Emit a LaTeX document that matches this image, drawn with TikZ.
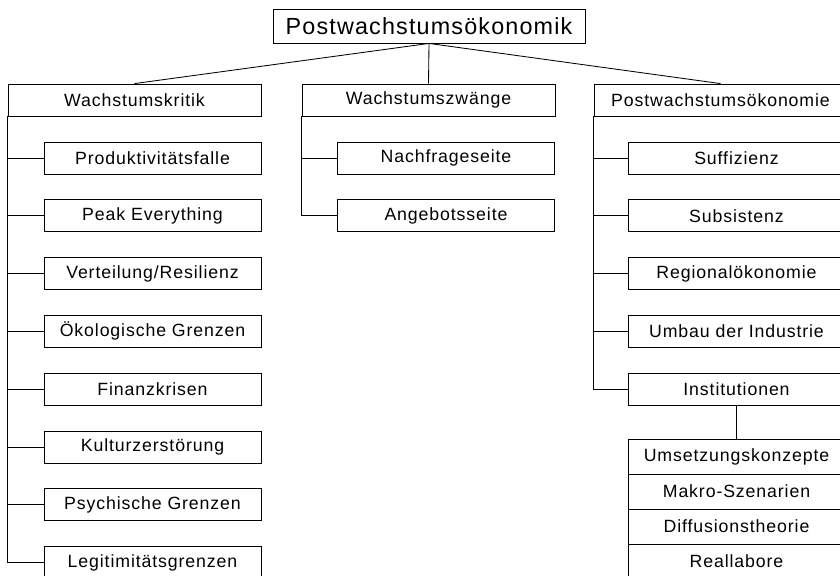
\documentclass[tikz,border=0pt]{standalone}
\usepackage{fontspec}
\setmainfont{Liberation Sans}[LetterSpace=5]
\usetikzlibrary{positioning}

\begin{document}
\begin{tikzpicture}[x=0.025cm, y=-0.025cm,
  box/.style={draw, line width=0.6pt, fill=white, minimum width=5.425cm, minimum height=0.8cm, inner sep=0pt, font=\fontsize{12.6}{15}\selectfont},
  head/.style={box, minimum width=6.325cm},
  row/.style={box, minimum height=0.875cm},
  link/.style={line width=0.6pt}
]
  \useasboundingbox (0,0) rectangle (840,575);
  \clip (0,0) rectangle (840,575);

  % root
  \node[box, minimum width=7.8cm, minimum height=0.85cm, font=\fontsize{16.6}{20}\selectfont] (root) at (429, 26) {Postwachstumsökonomik};

  % three branches
  \node[head] (krit) at (134.5, 100) {Wachstumskritik};
  \node[head] (zwang) at (428.5, 100) {Wachstumszwänge};
  \node[head] (post) at (720.5, 100) {Postwachstumsökonomie};

  \draw[link] (root.south) -- (krit.north);
  \draw[link] (root.south) -- (zwang.north);
  \draw[link] (root.south) -- (post.north);

  % Wachstumskritik
  \foreach \txt [count=\i] in {Produktivitätsfalle, Peak Everything, Verteilung/Resilienz, Ökologische Grenzen, Finanzkrisen, Kulturzerstörung, Psychische Grenzen, Legitimitätsgrenzen} {
    \node[box] (k\i) at (152.5, 100.2+57.8*\i) {\txt};
    \draw[link] (krit.south west) |- (k\i.west);
  }

  % Wachstumszwaenge
  \node[box] (nach) at (446, 158) {Nachfrageseite};
  \node[box] (ange) at (446, 215.8) {Angebotsseite};
  \draw[link] (zwang.south west) |- (nach.west);
  \draw[link] (zwang.south west) |- (ange.west);

  % Postwachstumsoekonomie
  \foreach \txt [count=\i] in {Suffizienz, Subsistenz, Regionalökonomie, Umbau der Industrie, Institutionen} {
    \node[box] (p\i) at (736.5, 100.2+57.8*\i) {\txt};
    \draw[link] (post.south west) |- (p\i.west);
  }

  % Institutionen
  \foreach \txt [count=\i] in {Umsetzungskonzepte, Makro-Szenarien, Diffusionstheorie, Reallabore} {
    \node[row] (s\i) at (736.5, 421.5+35*\i) {\txt};
  }
  \draw[link] (p5.south) -- (s1.north);
\end{tikzpicture}
\end{document}
